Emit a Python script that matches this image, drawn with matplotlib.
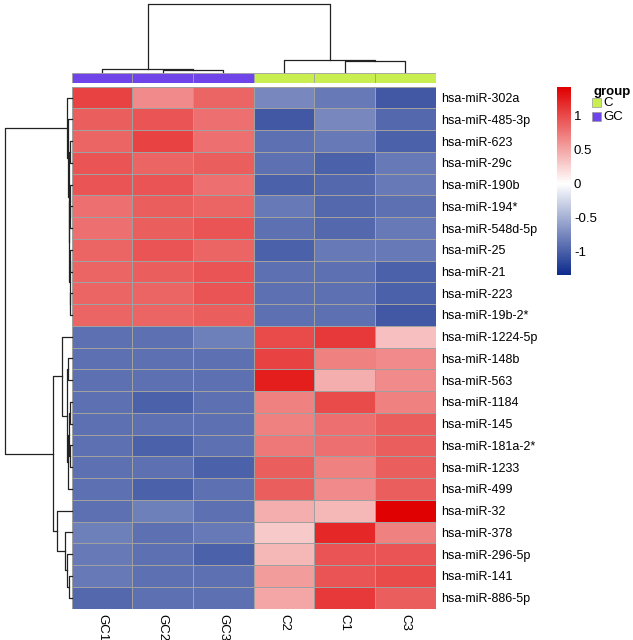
"""Clustered z-score heatmap of differentially expressed miRNAs, GC vs C."""

import matplotlib
matplotlib.use("Agg")
import matplotlib.pyplot as plt
import numpy as np
from matplotlib.colors import LinearSegmentedColormap, Normalize
from matplotlib.patches import Rectangle

plt.rcParams["font.family"] = ["Liberation Sans", "DejaVu Sans"]

mirnas = [
    "hsa-miR-302a", "hsa-miR-485-3p", "hsa-miR-623", "hsa-miR-29c",
    "hsa-miR-190b", "hsa-miR-194*", "hsa-miR-548d-5p", "hsa-miR-25",
    "hsa-miR-21", "hsa-miR-223", "hsa-miR-19b-2*", "hsa-miR-1224-5p",
    "hsa-miR-148b", "hsa-miR-563", "hsa-miR-1184", "hsa-miR-145",
    "hsa-miR-181a-2*", "hsa-miR-1233", "hsa-miR-499", "hsa-miR-32",
    "hsa-miR-378", "hsa-miR-296-5p", "hsa-miR-141", "hsa-miR-886-5p",
]
samples = ["GC1", "GC2", "GC3", "C2", "C1", "C3"]
sample_group = ["GC", "GC", "GC", "C", "C", "C"]
group_names = ["C", "GC"]
group_colors = ["#c9ee4f", "#6f45ea"]

# row z-scores, one list per sample (rows in display order)
gc1 = [1.05, 0.90, 0.85, 0.95, 0.95, 0.80, 0.80, 0.85, 0.85, 0.85, 0.85, -0.90,
       -0.90, -0.90, -0.90, -0.90, -0.90, -0.90, -0.90, -0.90, -0.80, -0.85, -0.85, -0.95]
gc2 = [0.65, 0.95, 1.05, 0.85, 0.95, 0.90, 0.90, 0.95, 0.90, 0.85, 0.85, -0.90,
       -0.90, -0.90, -1.00, -0.90, -1.00, -0.90, -1.00, -0.80, -0.90, -0.90, -0.90, -0.90]
gc3 = [0.85, 0.80, 0.80, 0.90, 0.80, 0.85, 0.95, 0.85, 0.95, 0.95, 0.90, -0.80,
       -0.90, -0.90, -0.90, -0.90, -0.90, -1.00, -0.90, -0.90, -0.85, -1.00, -0.90, -0.90]
c2 = [-0.75, -1.05, -0.90, -0.90, -1.00, -0.85, -0.90, -1.00, -0.90, -0.90, -0.90, 1.00,
      1.05, 1.25, 0.70, 0.70, 0.75, 0.90, 0.90, 0.45, 0.30, 0.40, 0.55, 0.50]
c1 = [-0.85, -0.75, -0.85, -1.00, -0.95, -0.95, -0.95, -0.85, -0.90, -0.90, -0.90, 1.10,
      0.70, 0.45, 1.00, 0.80, 0.80, 0.70, 0.65, 0.40, 1.20, 0.95, 0.95, 1.10]
c3 = [-1.05, -0.95, -1.00, -0.85, -0.85, -0.90, -0.85, -0.85, -1.00, -1.00, -1.05, 0.35,
      0.65, 0.65, 0.70, 0.90, 0.90, 0.90, 0.90, 1.40, 0.70, 0.95, 1.00, 0.90]

# linkage as (child_a, child_b, height); new nodes numbered from n_leaves upward
row_merges = [
    (9, 10, 1.6), (7, 8, 1.8), (25, 24, 2.2), (5, 6, 1.5), (4, 27, 2.0),
    (28, 26, 2.6), (2, 3, 1.7), (30, 29, 3.0), (1, 31, 3.6), (0, 32, 4.4),
    (12, 13, 3.4), (14, 15, 2.0), (16, 17, 1.8), (35, 36, 3.0), (37, 18, 4.0),
    (34, 38, 5.2), (11, 39, 10.0), (22, 23, 2.5), (21, 41, 5.0), (20, 42, 6.7),
    (19, 43, 15.0), (40, 44, 18.4), (33, 45, 66.7),
]
col_merges = [(1, 2, 2.2), (0, 6, 3.3), (4, 5, 10.5), (3, 8, 11.5), (7, 9, 67.5)]

cbar_ticks = [-1, -0.5, 0, 0.5, 1]
vmin, vmax = -1.35, 1.42

W, H = 633, 640


def rect(left, top, right, bottom):
    """Pixel box (origin top-left) -> figure-fraction axes rect."""
    return [left / W, 1 - bottom / H, (right - left) / W, (bottom - top) / H]


def dendro_segments(n_leaves, merges):
    pos = [i + 0.5 for i in range(n_leaves)]
    hgt = [0.0] * n_leaves
    segs = []
    for a, b, h in merges:
        segs.append(([pos[a], pos[a], pos[b], pos[b]], [hgt[a], h, h, hgt[b]]))
        pos.append((pos[a] + pos[b]) / 2)
        hgt.append(h)
    return segs


data = np.column_stack([gc1, gc2, gc3, c2, c1, c3])
n_rows, n_cols = data.shape

white_at = -vmin / (vmax - vmin)
cmap = LinearSegmentedColormap.from_list(
    "bwr_ph", [(0, "#0d2a8c"), (white_at, "#ffffff"), (1, "#e00000")])
norm = Normalize(vmin, vmax)

fig = plt.figure(figsize=(W / 100, H / 100), dpi=100)

# heatmap
ax = fig.add_axes(rect(71.7, 86.7, 435.7, 608.5))
mesh = ax.pcolormesh(data, cmap=cmap, norm=norm, edgecolors="#a0a0a0", linewidth=0.6)
ax.set_xlim(0, n_cols)
ax.set_ylim(n_rows, 0)
ax.yaxis.tick_right()
ax.set_yticks(np.arange(n_rows) + 0.5, mirnas, fontsize=9)
ax.set_xticks(np.arange(n_cols) + 0.5, samples, fontsize=9.5, rotation=270)
ax.tick_params(length=0, pad=4)
for s in ax.spines.values():
    s.set_visible(False)

# group annotation bar
ax_ann = fig.add_axes(rect(71.7, 73.3, 435.7, 83.3))
for j, g in enumerate(sample_group):
    ax_ann.add_patch(Rectangle((j, 0), 1, 1, facecolor=group_colors[group_names.index(g)],
                               edgecolor="#a0a0a0", linewidth=0.6))
ax_ann.set_xlim(0, n_cols)
ax_ann.set_ylim(0, 1)
ax_ann.axis("off")

# column dendrogram
ax_cd = fig.add_axes(rect(71.7, 4.0, 435.7, 72))
for xs, ys in dendro_segments(n_cols, col_merges):
    ax_cd.plot(xs, ys, color="#222222", lw=0.9, clip_on=False)
ax_cd.set_xlim(0, n_cols)
ax_cd.set_ylim(0, col_merges[-1][2])
ax_cd.axis("off")

# row dendrogram
ax_rd = fig.add_axes(rect(5, 86.7, 71.7, 608.5))
for ys, xs in dendro_segments(n_rows, row_merges):
    ax_rd.plot(xs, ys, color="#222222", lw=0.9, clip_on=False)
ax_rd.set_xlim(row_merges[-1][2], 0)
ax_rd.set_ylim(n_rows, 0)
ax_rd.axis("off")

# colour key
cax = fig.add_axes(rect(556.7, 87.3, 571.2, 275))
cb = fig.colorbar(mesh, cax=cax, ticks=cbar_ticks)
cb.outline.set_visible(False)
cb.ax.set_yticklabels([f"{t:g}" for t in cbar_ticks])
cb.ax.tick_params(length=0, pad=2, labelsize=9.5)

# group legend
fig.text(593 / W, 1 - 92 / H, "group", fontsize=9.5, fontweight="bold", va="center")
for k, (name, col) in enumerate(zip(group_names, group_colors)):
    yc = 102.5 + 14 * k
    fig.patches.append(Rectangle((592 / W, 1 - (yc + 4.5) / H), 9 / W, 9 / H,
                                 facecolor=col, edgecolor="#999999", linewidth=0.5,
                                 transform=fig.transFigure))
    fig.text(603 / W, 1 - yc / H, name, fontsize=9.5, va="center")

fig.savefig("out.png", dpi=100)
